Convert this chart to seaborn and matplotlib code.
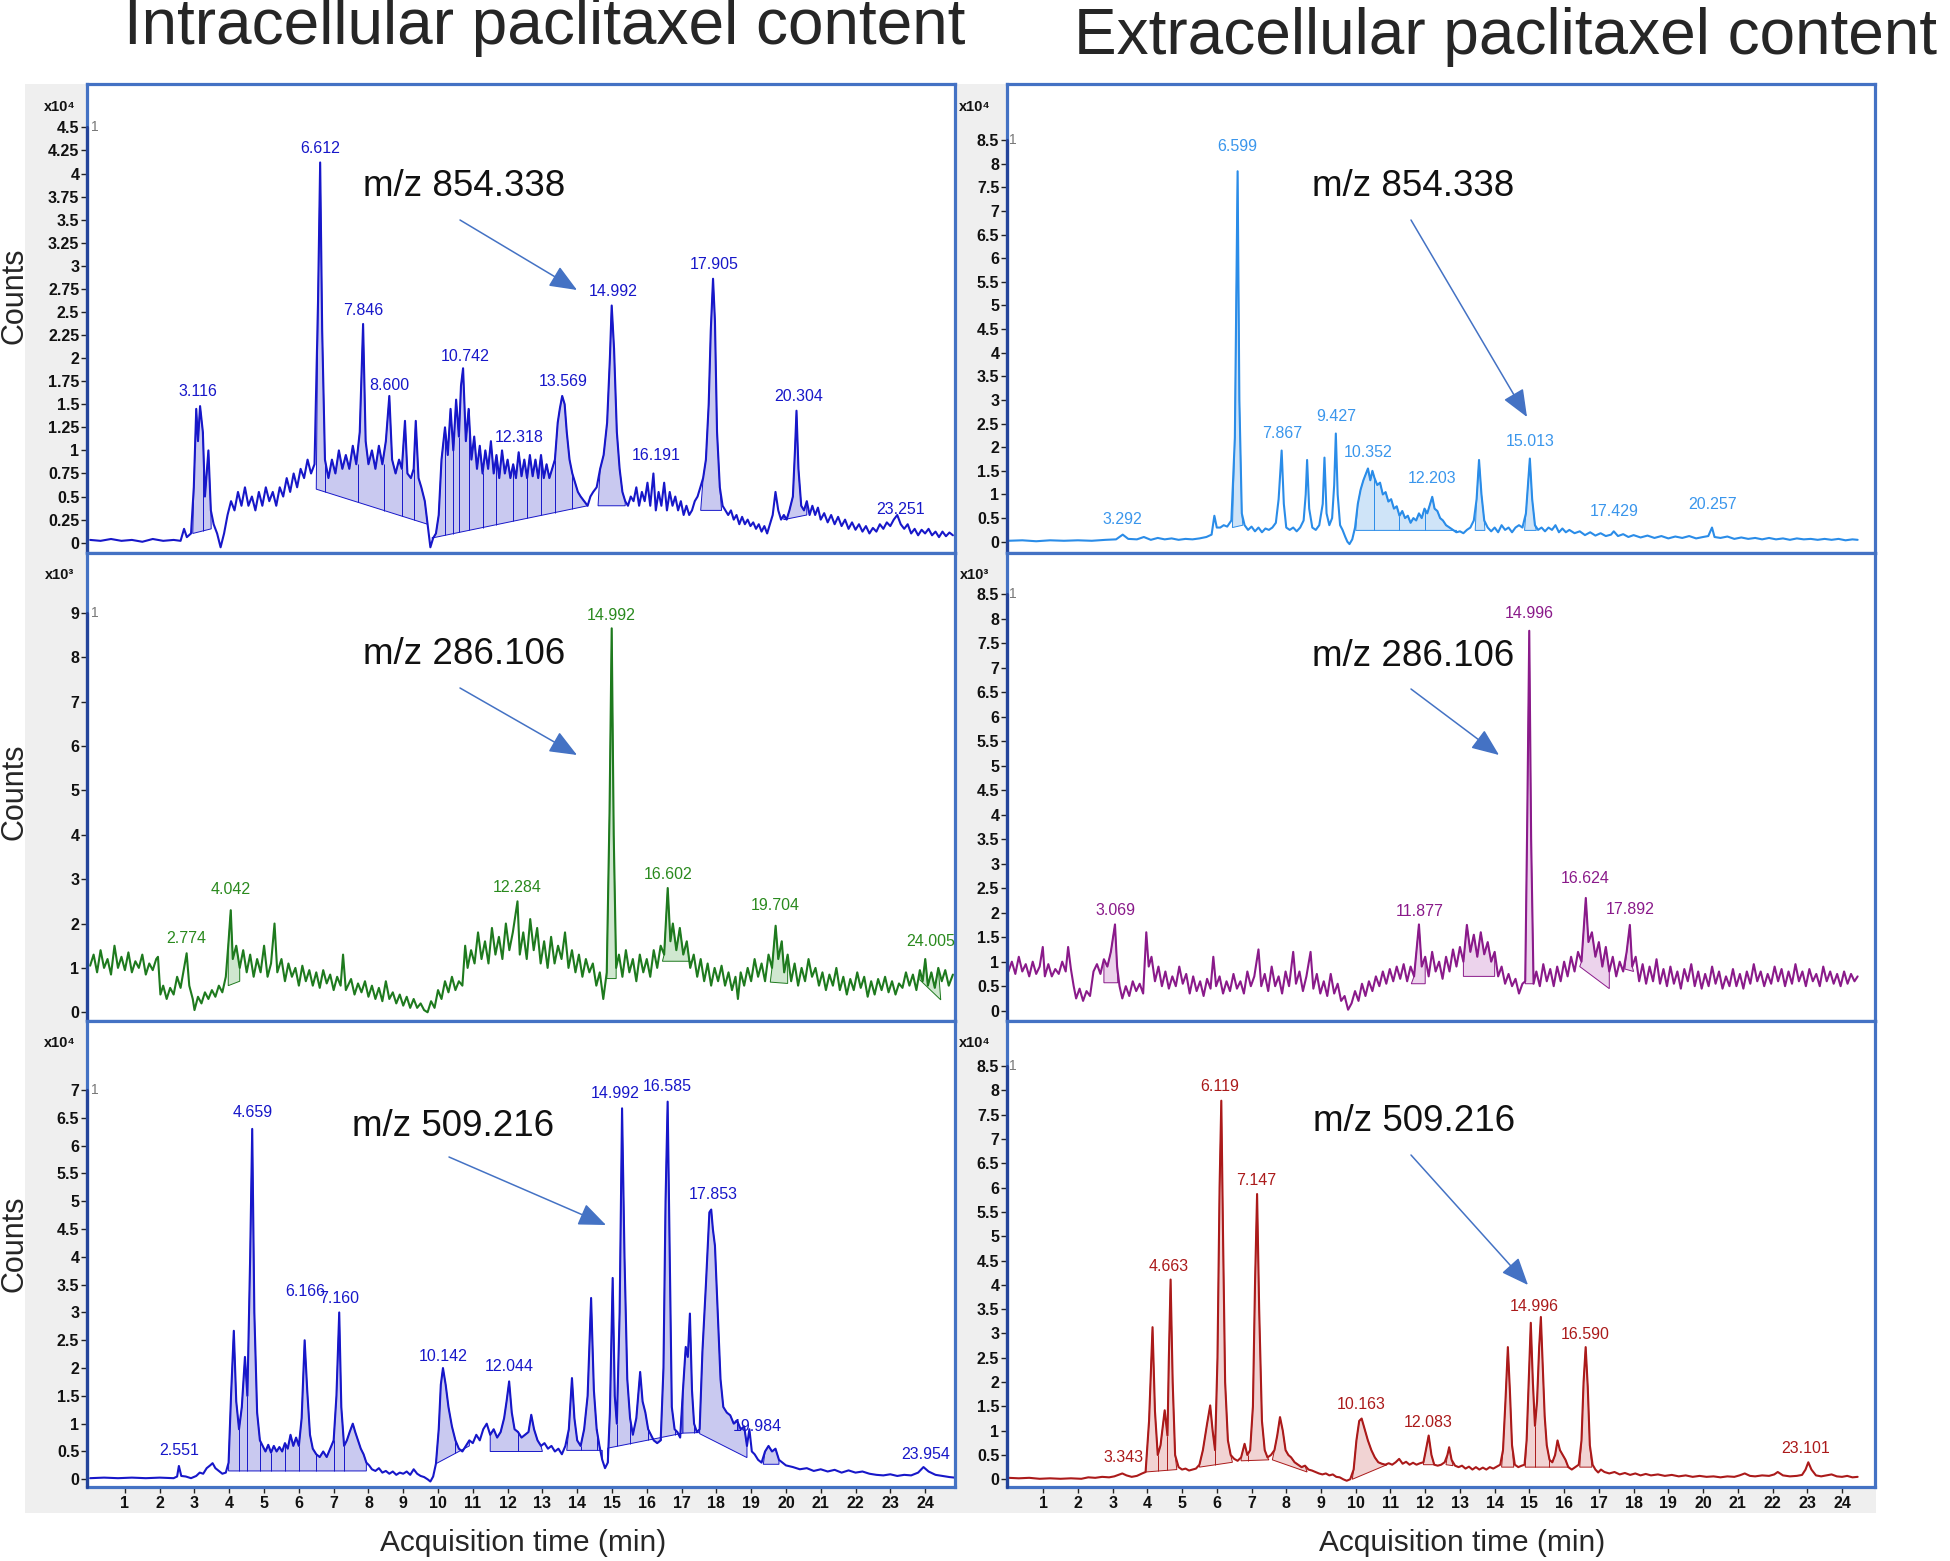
"""Extracted-ion chromatograms of paclitaxel, intra- vs extracellular (3x2 panels)."""
import matplotlib
matplotlib.use("Agg")
import matplotlib.pyplot as plt
from matplotlib import font_manager
from matplotlib.patches import Rectangle, FancyArrowPatch
import numpy as np
import seaborn as sns

W, H = 1950, 1561

# ---------------------------------------------------------------- data
# traces: (acquisition time in min, counts in the panel's x10^n unit)
P1_TRACE = [
    (0.0, 0.03), (0.3, 0.02), (0.6, 0.04), (0.9, 0.02), (1.2, 0.03), (1.5, 0.01), (1.8, 0.04),
    (2.1, 0.02), (2.4, 0.03), (2.6, 0.02), (2.7, 0.15), (2.78, 0.06), (2.9, 0.1), (2.98, 0.6),
    (3.05, 1.45), (3.1, 1.1), (3.16, 1.48), (3.24, 1.2), (3.3, 0.5), (3.4, 1.0), (3.47, 0.35),
    (3.55, 0.2), (3.65, 0.1), (3.75, -0.05), (3.85, 0.1), (3.95, 0.3), (4.05, 0.45), (4.15, 0.35),
    (4.25, 0.55), (4.35, 0.4), (4.45, 0.6), (4.55, 0.4), (4.65, 0.5), (4.75, 0.35), (4.85, 0.55),
    (4.95, 0.4), (5.05, 0.6), (5.15, 0.45), (5.25, 0.55), (5.35, 0.4), (5.45, 0.6), (5.55, 0.5),
    (5.65, 0.7), (5.75, 0.55), (5.85, 0.75), (5.95, 0.6), (6.05, 0.8), (6.15, 0.7), (6.25, 0.9),
    (6.35, 0.75), (6.45, 0.85), (6.55, 2.6), (6.612, 4.12), (6.67, 2.3), (6.75, 0.9), (6.85, 0.7),
    (6.95, 0.9), (7.05, 0.75), (7.15, 1.0), (7.25, 0.8), (7.35, 0.95), (7.45, 0.8), (7.55, 1.05),
    (7.65, 0.85), (7.75, 1.2), (7.846, 2.37), (7.92, 1.1), (8.0, 0.85), (8.1, 1.0), (8.2, 0.8),
    (8.3, 1.05), (8.4, 0.85), (8.5, 1.1), (8.6, 1.59), (8.68, 0.9), (8.78, 0.75), (8.88, 0.9),
    (8.96, 0.8), (9.05, 1.32), (9.12, 0.75), (9.22, 0.7), (9.3, 0.8), (9.36, 1.32), (9.44, 0.7),
    (9.52, 0.6), (9.62, 0.45), (9.7, 0.2), (9.78, -0.05), (9.86, 0.05), (9.94, 0.1), (10.02, 0.3),
    (10.1, 0.9), (10.2, 1.25), (10.28, 0.95), (10.36, 1.45), (10.44, 1.0), (10.52, 1.55),
    (10.6, 1.15), (10.66, 1.7), (10.72, 1.89), (10.8, 1.1), (10.88, 1.45), (10.96, 0.9),
    (11.04, 1.15), (11.12, 0.8), (11.2, 1.05), (11.28, 0.75), (11.36, 1.0), (11.44, 0.8),
    (11.52, 1.1), (11.6, 0.75), (11.68, 0.95), (11.76, 0.7), (11.84, 1.0), (11.92, 0.75),
    (12.0, 0.9), (12.08, 0.7), (12.16, 0.85), (12.24, 0.7), (12.318, 0.98), (12.4, 0.72),
    (12.48, 0.9), (12.56, 0.7), (12.64, 0.95), (12.72, 0.72), (12.8, 0.9), (12.88, 0.7),
    (12.96, 0.95), (13.04, 0.7), (13.12, 0.85), (13.2, 0.7), (13.28, 0.8), (13.36, 0.9),
    (13.44, 1.3), (13.5, 1.45), (13.569, 1.59), (13.64, 1.5), (13.7, 1.2), (13.78, 0.9),
    (13.86, 0.75), (13.94, 0.65), (14.02, 0.55), (14.1, 0.5), (14.2, 0.45), (14.3, 0.4),
    (14.38, 0.5), (14.46, 0.55), (14.56, 0.6), (14.66, 0.8), (14.76, 0.95), (14.86, 1.3),
    (14.94, 2.0), (14.992, 2.57), (15.06, 2.1), (15.14, 1.2), (15.22, 0.8), (15.3, 0.55),
    (15.38, 0.45), (15.46, 0.4), (15.54, 0.5), (15.62, 0.45), (15.7, 0.6), (15.78, 0.4),
    (15.86, 0.55), (15.94, 0.45), (16.02, 0.65), (16.1, 0.4), (16.191, 0.75), (16.26, 0.35),
    (16.34, 0.55), (16.42, 0.4), (16.5, 0.65), (16.58, 0.35), (16.66, 0.55), (16.74, 0.4),
    (16.82, 0.5), (16.9, 0.35), (16.98, 0.45), (17.06, 0.3), (17.14, 0.4), (17.22, 0.3),
    (17.3, 0.35), (17.38, 0.45), (17.46, 0.5), (17.54, 0.6), (17.62, 0.7), (17.7, 0.9),
    (17.78, 1.5), (17.84, 2.3), (17.905, 2.86), (17.96, 2.4), (18.02, 1.2), (18.1, 0.6),
    (18.18, 0.4), (18.26, 0.35), (18.34, 0.3), (18.42, 0.35), (18.5, 0.25), (18.58, 0.3),
    (18.66, 0.2), (18.74, 0.28), (18.82, 0.2), (18.9, 0.25), (18.98, 0.18), (19.06, 0.22),
    (19.14, 0.15), (19.22, 0.2), (19.3, 0.12), (19.38, 0.18), (19.46, 0.1), (19.54, 0.2),
    (19.62, 0.3), (19.7, 0.55), (19.78, 0.35), (19.86, 0.25), (19.94, 0.3), (20.02, 0.25),
    (20.1, 0.35), (20.2, 0.5), (20.26, 1.0), (20.304, 1.43), (20.36, 0.8), (20.44, 0.4),
    (20.52, 0.35), (20.6, 0.45), (20.68, 0.3), (20.76, 0.4), (20.84, 0.3), (20.92, 0.38),
    (21.0, 0.25), (21.1, 0.32), (21.2, 0.22), (21.3, 0.3), (21.4, 0.2), (21.5, 0.28), (21.6, 0.18),
    (21.7, 0.25), (21.8, 0.15), (21.9, 0.22), (22.0, 0.14), (22.1, 0.2), (22.2, 0.12), (22.3, 0.18),
    (22.4, 0.1), (22.5, 0.16), (22.6, 0.12), (22.7, 0.2), (22.8, 0.15), (22.9, 0.22), (23.0, 0.18),
    (23.1, 0.25), (23.2, 0.3), (23.3, 0.2), (23.4, 0.15), (23.5, 0.2), (23.6, 0.1), (23.7, 0.15),
    (23.8, 0.08), (23.9, 0.14), (24.0, 0.1), (24.1, 0.15), (24.2, 0.08), (24.3, 0.12), (24.4, 0.06),
    (24.5, 0.12), (24.6, 0.07), (24.7, 0.11), (24.8, 0.08),
]
P1_PEAKS = [("3.116", 3.1, 1.56), ("6.612", 6.62, 4.19), ("7.846", 7.85, 2.44), ("8.600", 8.6, 1.62),
            ("10.742", 10.78, 1.94), ("12.318", 12.33, 1.06), ("13.569", 13.6, 1.66),
            ("14.992", 15.03, 2.64), ("16.191", 16.28, 0.86), ("17.905", 17.95, 2.93),
            ("20.304", 20.36, 1.5), ("23.251", 23.3, 0.28)]
P1_SHADES = [(2.95, 3.48, 0.1, 0.15), (6.5, 9.7, 0.58, 0.2), (9.82, 14.3, 0.05, 0.4),
             (14.6, 15.38, 0.4, 0.4), (17.55, 18.15, 0.35, 0.35), (19.94, 20.6, 0.25, 0.3)]
P1_DIVIDERS = [3.24, 6.75, 7.7, 8.45, 8.96, 9.3, 10.2, 10.44, 10.6, 10.88, 11.28, 11.68, 12.16,
               12.56, 12.96, 13.36, 13.86]

P2_TRACE = [
    (0.0, 0.02), (0.4, 0.03), (0.8, 0.01), (1.2, 0.03), (1.6, 0.02), (2.0, 0.03), (2.4, 0.02),
    (2.8, 0.04), (3.1, 0.05), (3.292, 0.15), (3.45, 0.06), (3.7, 0.05), (3.9, 0.1), (4.1, 0.04),
    (4.3, 0.08), (4.5, 0.05), (4.7, 0.07), (4.9, 0.04), (5.1, 0.06), (5.3, 0.05), (5.5, 0.07),
    (5.7, 0.1), (5.85, 0.15), (5.93, 0.55), (6.0, 0.3), (6.1, 0.3), (6.2, 0.35), (6.3, 0.32),
    (6.42, 0.45), (6.52, 2.2), (6.599, 7.84), (6.65, 3.0), (6.72, 0.6), (6.8, 0.35), (6.9, 0.25),
    (7.0, 0.32), (7.1, 0.22), (7.2, 0.3), (7.3, 0.2), (7.4, 0.28), (7.5, 0.25), (7.6, 0.3),
    (7.7, 0.4), (7.78, 0.9), (7.867, 1.93), (7.93, 0.8), (8.0, 0.3), (8.1, 0.25), (8.2, 0.3),
    (8.3, 0.22), (8.4, 0.3), (8.5, 0.45), (8.56, 1.0), (8.6, 1.73), (8.66, 0.7), (8.75, 0.3),
    (8.85, 0.25), (8.95, 0.35), (9.05, 0.8), (9.1, 1.78), (9.16, 0.6), (9.24, 0.35), (9.32, 0.5),
    (9.38, 1.2), (9.427, 2.29), (9.48, 1.0), (9.55, 0.35), (9.62, 0.25), (9.7, 0.1), (9.76, 0.0),
    (9.82, -0.05), (9.9, 0.05), (9.98, 0.3), (10.06, 0.8), (10.14, 1.1), (10.22, 1.3), (10.3, 1.45),
    (10.352, 1.55), (10.42, 1.3), (10.48, 1.5), (10.54, 1.35), (10.62, 1.2), (10.7, 1.25),
    (10.78, 1.0), (10.86, 1.05), (10.94, 0.85), (11.02, 0.9), (11.1, 0.7), (11.18, 0.75),
    (11.26, 0.55), (11.34, 0.65), (11.42, 0.5), (11.5, 0.55), (11.58, 0.4), (11.66, 0.5),
    (11.74, 0.45), (11.82, 0.6), (11.9, 0.5), (11.98, 0.7), (12.06, 0.6), (12.14, 0.8),
    (12.203, 0.95), (12.27, 0.7), (12.35, 0.65), (12.43, 0.5), (12.51, 0.45), (12.6, 0.35),
    (12.7, 0.3), (12.8, 0.25), (12.9, 0.2), (13.0, 0.22), (13.1, 0.18), (13.2, 0.25), (13.3, 0.3),
    (13.4, 0.45), (13.48, 0.9), (13.55, 1.73), (13.62, 1.0), (13.7, 0.45), (13.8, 0.3), (13.9, 0.22),
    (14.0, 0.3), (14.1, 0.2), (14.2, 0.35), (14.3, 0.25), (14.4, 0.3), (14.5, 0.2), (14.6, 0.3),
    (14.7, 0.35), (14.8, 0.3), (14.9, 0.6), (15.013, 1.76), (15.08, 0.9), (15.16, 0.35),
    (15.25, 0.25), (15.35, 0.3), (15.45, 0.22), (15.55, 0.3), (15.65, 0.25), (15.75, 0.35),
    (15.85, 0.2), (15.95, 0.28), (16.05, 0.2), (16.15, 0.25), (16.3, 0.18), (16.45, 0.22),
    (16.6, 0.14), (16.75, 0.2), (16.9, 0.13), (17.05, 0.18), (17.2, 0.12), (17.35, 0.15),
    (17.429, 0.22), (17.55, 0.12), (17.7, 0.16), (17.85, 0.1), (18.0, 0.14), (18.2, 0.09),
    (18.4, 0.13), (18.6, 0.08), (18.8, 0.12), (19.0, 0.07), (19.2, 0.11), (19.4, 0.08),
    (19.6, 0.12), (19.8, 0.07), (20.0, 0.1), (20.15, 0.12), (20.257, 0.3), (20.33, 0.1),
    (20.5, 0.08), (20.7, 0.11), (20.9, 0.06), (21.1, 0.09), (21.3, 0.06), (21.5, 0.08),
    (21.7, 0.05), (21.9, 0.08), (22.1, 0.05), (22.3, 0.07), (22.5, 0.04), (22.7, 0.07),
    (22.9, 0.05), (23.1, 0.06), (23.3, 0.04), (23.5, 0.06), (23.7, 0.04), (23.9, 0.06),
    (24.1, 0.03), (24.3, 0.05), (24.45, 0.04),
]
P2_PEAKS = [("3.292", 3.29, 0.32), ("6.599", 6.6, 8.2), ("7.867", 7.87, 2.13), ("9.427", 9.43, 2.5),
            ("10.352", 10.35, 1.73), ("12.203", 12.2, 1.18), ("15.013", 15.01, 1.97),
            ("17.429", 17.43, 0.49), ("20.257", 20.26, 0.62)]
P2_SHADES = [(6.45, 6.75, 0.3, 0.35), (10.0, 12.9, 0.24, 0.24), (13.44, 13.72, 0.24, 0.24),
             (14.86, 15.2, 0.24, 0.24)]
P2_DIVIDERS = [10.54, 11.26, 11.98]

P3_TRACE = [
    (0.0, 1.05), (0.1, 1.3), (0.2, 0.9), (0.3, 1.4), (0.4, 1.0), (0.5, 1.2), (0.6, 0.85), (0.7, 1.5),
    (0.8, 1.0), (0.9, 1.25), (1.0, 0.95), (1.1, 1.35), (1.2, 0.9), (1.3, 1.15), (1.4, 1.0),
    (1.5, 1.3), (1.6, 0.85), (1.7, 1.1), (1.8, 0.95), (1.9, 1.2), (1.95, 1.25), (2.02, 0.4),
    (2.1, 0.6), (2.2, 0.3), (2.3, 0.55), (2.4, 0.4), (2.5, 0.8), (2.6, 0.55), (2.7, 1.0),
    (2.774, 1.33), (2.85, 0.6), (2.95, 0.3), (3.0, 0.05), (3.1, 0.35), (3.2, 0.2), (3.3, 0.45),
    (3.4, 0.3), (3.5, 0.5), (3.6, 0.35), (3.7, 0.6), (3.8, 0.45), (3.9, 0.8), (3.97, 1.5),
    (4.042, 2.3), (4.1, 1.2), (4.2, 1.5), (4.3, 1.0), (4.4, 1.4), (4.5, 0.9), (4.6, 1.3), (4.7, 0.8),
    (4.8, 1.2), (4.9, 0.9), (5.0, 1.5), (5.1, 0.8), (5.2, 1.1), (5.3, 2.0), (5.38, 0.9), (5.5, 1.2),
    (5.6, 0.7), (5.7, 1.1), (5.8, 0.8), (5.9, 1.0), (6.0, 0.6), (6.1, 1.05), (6.2, 0.7), (6.3, 0.95),
    (6.4, 0.6), (6.5, 0.9), (6.6, 0.55), (6.7, 0.95), (6.8, 0.65), (6.9, 0.85), (7.0, 0.5),
    (7.1, 0.8), (7.2, 0.6), (7.27, 1.3), (7.35, 0.5), (7.5, 0.75), (7.6, 0.4), (7.7, 0.65),
    (7.8, 0.45), (7.9, 0.7), (8.0, 0.35), (8.1, 0.6), (8.2, 0.3), (8.3, 0.55), (8.4, 0.25),
    (8.5, 0.7), (8.6, 0.3), (8.7, 0.45), (8.8, 0.2), (8.9, 0.4), (9.0, 0.15), (9.1, 0.35),
    (9.2, 0.1), (9.3, 0.3), (9.4, 0.1), (9.5, 0.2), (9.6, 0.05), (9.7, 0.0), (9.8, 0.25), (9.9, 0.1),
    (10.0, 0.5), (10.1, 0.3), (10.2, 0.7), (10.3, 0.45), (10.4, 0.8), (10.5, 0.5), (10.6, 0.7),
    (10.7, 0.6), (10.78, 1.5), (10.85, 1.0), (10.95, 1.4), (11.05, 1.1), (11.15, 1.8), (11.25, 1.2),
    (11.35, 1.6), (11.45, 1.1), (11.55, 1.9), (11.65, 1.3), (11.75, 1.7), (11.85, 1.2), (11.95, 2.0),
    (12.05, 1.4), (12.15, 1.8), (12.284, 2.5), (12.35, 1.3), (12.45, 1.8), (12.55, 1.2),
    (12.65, 2.1), (12.75, 1.4), (12.85, 1.9), (12.95, 1.1), (13.05, 1.6), (13.15, 1.0),
    (13.25, 1.7), (13.35, 1.1), (13.45, 1.5), (13.55, 1.2), (13.65, 1.8), (13.75, 1.0),
    (13.85, 1.4), (13.95, 0.9), (14.05, 1.3), (14.15, 0.8), (14.25, 1.2), (14.35, 0.9),
    (14.45, 1.1), (14.55, 0.6), (14.65, 0.9), (14.75, 0.3), (14.85, 0.9), (14.93, 4.5),
    (14.992, 8.65), (15.05, 4.0), (15.12, 1.0), (15.2, 1.3), (15.3, 0.8), (15.4, 1.4), (15.5, 0.9),
    (15.6, 1.2), (15.7, 0.7), (15.8, 1.3), (15.9, 0.9), (16.0, 1.2), (16.1, 0.8), (16.2, 1.4),
    (16.3, 1.0), (16.4, 1.5), (16.5, 1.3), (16.602, 2.8), (16.68, 1.6), (16.75, 2.0), (16.85, 1.4),
    (16.95, 1.9), (17.05, 1.3), (17.15, 1.6), (17.25, 1.0), (17.35, 1.3), (17.45, 0.8),
    (17.55, 1.2), (17.65, 0.7), (17.75, 1.1), (17.85, 0.6), (17.95, 1.0), (18.05, 0.7),
    (18.15, 1.05), (18.25, 0.6), (18.35, 0.9), (18.45, 0.5), (18.55, 0.8), (18.62, 0.3), (18.7, 0.9),
    (18.8, 0.6), (18.9, 1.0), (19.0, 0.7), (19.1, 1.2), (19.2, 0.8), (19.3, 1.1), (19.4, 0.7),
    (19.5, 1.3), (19.6, 1.0), (19.704, 1.95), (19.78, 1.2), (19.88, 1.6), (19.95, 0.9),
    (20.05, 1.3), (20.15, 0.7), (20.25, 1.1), (20.35, 0.6), (20.45, 1.0), (20.55, 0.7),
    (20.65, 1.2), (20.75, 0.8), (20.85, 1.0), (20.95, 0.6), (21.05, 0.9), (21.15, 0.5),
    (21.25, 0.85), (21.35, 0.6), (21.45, 1.0), (21.55, 0.5), (21.65, 0.8), (21.75, 0.4),
    (21.85, 0.75), (21.95, 0.5), (22.05, 0.9), (22.15, 0.55), (22.25, 0.8), (22.35, 0.35),
    (22.45, 0.7), (22.55, 0.4), (22.65, 0.75), (22.75, 0.5), (22.85, 0.8), (22.95, 0.45),
    (23.05, 0.7), (23.15, 0.4), (23.25, 0.65), (23.35, 0.55), (23.45, 0.9), (23.55, 0.6),
    (23.65, 0.85), (23.75, 0.5), (23.85, 0.95), (23.93, 0.7), (24.005, 1.2), (24.08, 0.6),
    (24.18, 0.9), (24.28, 0.55), (24.38, 1.0), (24.48, 0.7), (24.58, 0.95), (24.68, 0.6),
    (24.8, 0.85),
]
P3_PEAKS = [("2.774", 2.77, 1.5), ("4.042", 4.04, 2.6), ("12.284", 12.28, 2.65),
            ("14.992", 14.99, 8.76), ("16.602", 16.6, 2.93), ("19.704", 19.7, 2.23),
            ("24.005", 24.15, 1.42)]
P3_SHADES = [(3.97, 4.3, 0.6, 0.7), (14.85, 15.12, 0.76, 0.76), (16.45, 17.25, 1.15, 1.15),
             (19.55, 20.05, 0.68, 0.65), (23.85, 24.45, 0.73, 0.28)]
P3_DIVIDERS = []

P4_TRACE = [
    (0.0, 0.8), (0.1, 1.0), (0.2, 0.75), (0.3, 1.1), (0.4, 0.8), (0.5, 0.95), (0.6, 0.7), (0.7, 1.0),
    (0.8, 0.75), (0.9, 0.9), (0.99, 1.3), (1.05, 0.7), (1.15, 0.95), (1.25, 0.7), (1.35, 0.85),
    (1.45, 0.75), (1.55, 1.0), (1.65, 0.8), (1.72, 1.3), (1.8, 0.85), (1.88, 0.5), (1.95, 0.25),
    (2.05, 0.45), (2.15, 0.2), (2.25, 0.4), (2.35, 0.3), (2.45, 0.8), (2.55, 0.95), (2.65, 0.75),
    (2.75, 1.05), (2.85, 0.9), (2.95, 1.2), (3.069, 1.76), (3.13, 0.9), (3.2, 0.5), (3.28, 0.25),
    (3.38, 0.5), (3.48, 0.3), (3.58, 0.6), (3.68, 0.4), (3.78, 0.55), (3.88, 0.35), (3.97, 1.6),
    (4.04, 0.9), (4.12, 1.1), (4.22, 0.6), (4.32, 0.9), (4.42, 0.5), (4.52, 0.8), (4.62, 0.45),
    (4.72, 0.7), (4.82, 0.5), (4.92, 0.9), (5.02, 0.55), (5.12, 0.75), (5.22, 0.35), (5.32, 0.7),
    (5.42, 0.4), (5.52, 0.6), (5.62, 0.3), (5.72, 0.65), (5.82, 0.45), (5.9, 1.1), (5.98, 0.5),
    (6.08, 0.7), (6.18, 0.35), (6.28, 0.6), (6.38, 0.4), (6.48, 0.75), (6.58, 0.45), (6.68, 0.6),
    (6.78, 0.35), (6.88, 0.8), (6.98, 0.5), (7.08, 0.7), (7.2, 1.25), (7.28, 0.5), (7.38, 0.75),
    (7.48, 0.4), (7.58, 0.9), (7.68, 0.5), (7.78, 0.7), (7.88, 0.35), (7.98, 0.8), (8.08, 0.5),
    (8.2, 1.2), (8.28, 0.55), (8.38, 0.8), (8.48, 0.4), (8.58, 0.7), (8.7, 1.2), (8.78, 0.45),
    (8.88, 0.75), (8.98, 0.35), (9.08, 0.6), (9.18, 0.3), (9.28, 0.75), (9.38, 0.35), (9.48, 0.55),
    (9.58, 0.2), (9.68, 0.3), (9.78, 0.02), (9.88, 0.15), (9.98, 0.4), (10.08, 0.2), (10.18, 0.55),
    (10.28, 0.3), (10.38, 0.6), (10.48, 0.4), (10.58, 0.7), (10.68, 0.5), (10.78, 0.8),
    (10.88, 0.55), (10.98, 0.85), (11.08, 0.6), (11.18, 0.9), (11.28, 0.65), (11.38, 0.95),
    (11.48, 0.6), (11.58, 0.9), (11.68, 0.7), (11.82, 1.76), (11.9, 0.9), (12.0, 1.1), (12.1, 0.7),
    (12.2, 1.2), (12.3, 0.8), (12.4, 1.0), (12.5, 0.65), (12.6, 1.1), (12.7, 0.8), (12.8, 1.25),
    (12.9, 0.9), (13.0, 1.3), (13.1, 1.0), (13.2, 1.75), (13.3, 1.2), (13.4, 1.55), (13.5, 1.1),
    (13.6, 1.6), (13.7, 1.15), (13.8, 1.4), (13.9, 1.0), (14.0, 1.2), (14.1, 0.7), (14.2, 0.9),
    (14.3, 0.55), (14.4, 0.75), (14.5, 0.5), (14.6, 0.65), (14.7, 0.35), (14.8, 0.55), (14.88, 0.6),
    (14.94, 4.0), (14.996, 7.75), (15.05, 3.5), (15.12, 0.55), (15.2, 0.8), (15.3, 0.5),
    (15.4, 0.95), (15.5, 0.6), (15.6, 0.85), (15.7, 0.5), (15.8, 0.9), (15.9, 0.6), (16.0, 1.0),
    (16.1, 0.7), (16.2, 1.1), (16.3, 0.8), (16.4, 1.2), (16.5, 1.0), (16.624, 2.3), (16.7, 1.4),
    (16.8, 1.6), (16.9, 1.1), (17.0, 1.4), (17.1, 0.9), (17.2, 1.3), (17.3, 0.8), (17.4, 1.1),
    (17.5, 0.7), (17.6, 1.0), (17.7, 0.8), (17.8, 1.2), (17.892, 1.75), (17.96, 0.9), (18.06, 1.1),
    (18.16, 0.6), (18.26, 0.95), (18.36, 0.55), (18.46, 0.9), (18.56, 0.6), (18.66, 1.05),
    (18.76, 0.55), (18.86, 0.85), (18.96, 0.5), (19.06, 0.9), (19.16, 0.55), (19.26, 0.8),
    (19.36, 0.45), (19.46, 0.85), (19.56, 0.6), (19.66, 0.95), (19.76, 0.5), (19.86, 0.8),
    (19.96, 0.45), (20.06, 0.75), (20.16, 0.5), (20.26, 0.9), (20.36, 0.55), (20.46, 0.8),
    (20.56, 0.45), (20.66, 0.7), (20.76, 0.5), (20.86, 0.85), (20.96, 0.5), (21.06, 0.75),
    (21.16, 0.45), (21.26, 0.8), (21.36, 0.55), (21.46, 0.95), (21.56, 0.6), (21.66, 0.8),
    (21.76, 0.5), (21.86, 0.75), (21.96, 0.55), (22.06, 0.9), (22.16, 0.6), (22.26, 0.85),
    (22.36, 0.5), (22.46, 0.8), (22.56, 0.55), (22.66, 0.95), (22.76, 0.6), (22.86, 0.8),
    (22.96, 0.5), (23.06, 0.85), (23.16, 0.6), (23.26, 0.75), (23.36, 0.5), (23.46, 0.9),
    (23.56, 0.6), (23.66, 0.8), (23.76, 0.55), (23.86, 0.75), (23.96, 0.5), (24.06, 0.8),
    (24.16, 0.55), (24.26, 0.75), (24.36, 0.6), (24.45, 0.7),
]
P4_PEAKS = [("3.069", 3.07, 1.89), ("11.877", 11.85, 1.87), ("14.996", 15.0, 7.94),
            ("16.624", 16.62, 2.55), ("17.892", 17.9, 1.92)]
P4_SHADES = [(2.75, 3.15, 0.57, 0.57), (11.6, 12.0, 0.55, 0.55), (13.1, 14.0, 0.7, 0.7),
             (14.88, 15.12, 0.55, 0.55), (16.45, 17.3, 0.9, 0.45), (17.75, 18.0, 0.85, 0.8)]
P4_DIVIDERS = []

P5_TRACE = [
    (0.0, 0.02), (0.4, 0.03), (0.8, 0.02), (1.2, 0.03), (1.6, 0.02), (2.0, 0.03), (2.4, 0.02),
    (2.5, 0.05), (2.551, 0.24), (2.62, 0.06), (2.75, 0.05), (2.9, 0.02), (3.05, 0.06), (3.15, 0.12),
    (3.25, 0.1), (3.35, 0.2), (3.45, 0.25), (3.52, 0.29), (3.6, 0.2), (3.7, 0.15), (3.8, 0.1),
    (3.9, 0.12), (3.98, 0.3), (4.05, 1.5), (4.13, 2.67), (4.2, 1.4), (4.28, 0.9), (4.36, 1.3),
    (4.45, 2.2), (4.52, 1.5), (4.6, 4.0), (4.659, 6.3), (4.72, 3.0), (4.8, 1.2), (4.88, 0.7),
    (4.96, 0.6), (5.04, 0.5), (5.12, 0.62), (5.2, 0.48), (5.28, 0.6), (5.36, 0.5), (5.44, 0.58),
    (5.52, 0.5), (5.6, 0.65), (5.68, 0.55), (5.76, 0.8), (5.84, 0.6), (5.92, 0.75), (6.0, 0.6),
    (6.08, 1.1), (6.166, 2.5), (6.24, 1.6), (6.32, 0.8), (6.4, 0.55), (6.5, 0.45), (6.6, 0.4),
    (6.7, 0.5), (6.8, 0.4), (6.9, 0.55), (7.0, 0.7), (7.08, 1.5), (7.16, 3.0), (7.22, 1.3),
    (7.3, 0.6), (7.38, 0.7), (7.46, 0.85), (7.55, 1.0), (7.62, 0.85), (7.7, 0.7), (7.78, 0.55),
    (7.86, 0.45), (7.94, 0.3), (8.02, 0.25), (8.1, 0.18), (8.2, 0.15), (8.3, 0.2), (8.4, 0.12),
    (8.5, 0.15), (8.6, 0.1), (8.7, 0.14), (8.8, 0.08), (8.9, 0.12), (9.0, 0.1), (9.1, 0.14),
    (9.2, 0.08), (9.3, 0.18), (9.4, 0.1), (9.5, 0.06), (9.6, 0.04), (9.7, 0.0), (9.78, -0.04),
    (9.86, 0.05), (9.94, 0.28), (10.02, 0.9), (10.08, 1.7), (10.142, 2.0), (10.22, 1.7), (10.3, 1.3),
    (10.4, 0.95), (10.5, 0.7), (10.6, 0.55), (10.7, 0.5), (10.8, 0.6), (10.9, 0.7), (11.0, 0.65),
    (11.1, 0.8), (11.2, 0.7), (11.3, 0.9), (11.4, 1.0), (11.5, 0.8), (11.6, 0.9), (11.7, 0.75),
    (11.8, 0.85), (11.9, 1.1), (11.97, 1.4), (12.044, 1.76), (12.12, 1.2), (12.2, 0.9), (12.3, 0.85),
    (12.4, 0.75), (12.5, 0.8), (12.6, 0.85), (12.68, 1.16), (12.76, 0.9), (12.86, 0.7), (12.96, 0.6),
    (13.06, 0.65), (13.16, 0.55), (13.26, 0.6), (13.36, 0.5), (13.46, 0.55), (13.56, 0.45),
    (13.66, 0.6), (13.76, 0.9), (13.85, 1.82), (13.92, 1.1), (14.0, 0.7), (14.1, 0.6), (14.2, 0.9),
    (14.3, 1.5), (14.4, 3.26), (14.48, 1.6), (14.56, 0.9), (14.64, 0.6), (14.72, 0.35), (14.8, 0.2),
    (14.88, 0.3), (14.94, 1.2), (15.02, 3.62), (15.08, 1.5), (15.14, 1.0), (15.22, 3.0),
    (15.29, 6.67), (15.36, 4.0), (15.44, 1.8), (15.52, 1.1), (15.6, 0.8), (15.7, 1.1), (15.81, 1.93),
    (15.88, 1.4), (15.96, 1.2), (16.04, 0.9), (16.12, 0.8), (16.2, 0.7), (16.3, 0.65), (16.4, 0.7),
    (16.48, 2.0), (16.54, 5.0), (16.6, 6.79), (16.66, 4.0), (16.72, 1.3), (16.8, 0.9), (16.88, 0.85),
    (16.96, 0.75), (17.04, 1.6), (17.12, 2.38), (17.18, 2.2), (17.24, 2.98), (17.3, 1.6),
    (17.36, 1.0), (17.44, 0.85), (17.52, 0.9), (17.6, 2.3), (17.7, 3.5), (17.8, 4.8), (17.853, 4.85),
    (17.9, 4.5), (17.96, 4.2), (18.04, 3.0), (18.12, 1.8), (18.2, 1.3), (18.3, 1.2), (18.4, 1.15),
    (18.5, 1.0), (18.6, 1.05), (18.7, 0.9), (18.8, 0.95), (18.88, 0.6), (18.95, 0.9), (19.02, 0.5),
    (19.1, 0.45), (19.2, 0.35), (19.3, 0.3), (19.4, 0.5), (19.5, 0.6), (19.6, 0.5), (19.7, 0.55),
    (19.8, 0.35), (19.9, 0.3), (20.0, 0.25), (20.2, 0.22), (20.4, 0.18), (20.6, 0.2), (20.8, 0.15),
    (21.0, 0.18), (21.2, 0.14), (21.4, 0.17), (21.6, 0.12), (21.8, 0.16), (22.0, 0.12), (22.2, 0.14),
    (22.4, 0.1), (22.6, 0.08), (22.8, 0.07), (23.0, 0.09), (23.2, 0.06), (23.4, 0.08), (23.6, 0.07),
    (23.8, 0.12), (23.954, 0.22), (24.1, 0.14), (24.3, 0.08), (24.5, 0.06), (24.7, 0.04),
    (24.85, 0.03),
]
P5_PEAKS = [("2.551", 2.55, 0.38), ("4.659", 4.66, 6.46), ("6.166", 6.17, 3.24), ("7.160", 7.16, 3.11),
            ("10.142", 10.14, 2.08), ("12.044", 12.04, 1.9), ("14.992", 15.08, 6.81),
            ("16.585", 16.6, 6.93), ("17.853", 17.9, 4.98), ("19.984", 19.17, 0.82),
            ("23.954", 24.01, 0.31)]
P5_SHADES = [(3.98, 7.94, 0.15, 0.15), (9.94, 10.9, 0.28, 0.6), (11.5, 13.0, 0.5, 0.5),
             (13.7, 14.72, 0.52, 0.52), (14.88, 17.04, 0.56, 0.83), (17.04, 17.52, 0.83, 0.84),
             (17.52, 18.88, 0.82, 0.39), (19.35, 19.8, 0.27, 0.27)]
P5_DIVIDERS = [4.28, 4.52, 4.88, 5.2, 5.6, 6.0, 6.5, 7.0, 7.3, 10.5, 12.3, 14.1, 14.56, 15.14,
               15.52, 16.04, 16.4, 16.8, 17.36]

P6_TRACE = [
    (0.0, 0.03), (0.3, 0.02), (0.6, 0.03), (0.9, 0.01), (1.2, 0.02), (1.5, 0.01), (1.8, 0.02),
    (2.1, 0.01), (2.3, 0.04), (2.5, 0.03), (2.7, 0.05), (2.9, 0.04), (3.05, 0.06), (3.2, 0.1),
    (3.28, 0.12), (3.4, 0.08), (3.55, 0.05), (3.7, 0.07), (3.85, 0.12), (3.95, 0.15), (4.05, 1.2),
    (4.15, 3.13), (4.22, 1.4), (4.3, 0.5), (4.38, 0.7), (4.5, 1.42), (4.58, 0.9), (4.62, 2.5),
    (4.67, 4.11), (4.73, 2.0), (4.8, 0.5), (4.9, 0.25), (5.0, 0.2), (5.1, 0.22), (5.2, 0.18),
    (5.3, 0.2), (5.4, 0.22), (5.5, 0.3), (5.6, 0.6), (5.72, 1.14), (5.81, 1.52), (5.88, 1.0),
    (5.95, 0.6), (6.02, 2.5), (6.08, 6.0), (6.13, 7.79), (6.18, 5.0), (6.24, 2.0), (6.32, 0.8),
    (6.4, 0.5), (6.5, 0.42), (6.6, 0.38), (6.7, 0.45), (6.8, 0.73), (6.88, 0.5), (6.96, 0.6),
    (7.04, 1.5), (7.1, 4.0), (7.16, 5.87), (7.22, 3.5), (7.3, 1.2), (7.38, 0.6), (7.46, 0.45),
    (7.56, 0.5), (7.66, 0.6), (7.74, 0.9), (7.82, 1.28), (7.9, 1.0), (7.98, 0.6), (8.06, 0.5),
    (8.14, 0.45), (8.24, 0.35), (8.34, 0.3), (8.44, 0.25), (8.54, 0.28), (8.64, 0.2), (8.74, 0.18),
    (8.84, 0.15), (8.94, 0.12), (9.04, 0.1), (9.14, 0.12), (9.24, 0.08), (9.34, 0.1), (9.44, 0.05),
    (9.54, 0.04), (9.64, 0.0), (9.74, -0.03), (9.84, 0.0), (9.94, 0.2), (10.02, 0.8), (10.1, 1.2),
    (10.17, 1.25), (10.25, 1.05), (10.35, 0.8), (10.45, 0.6), (10.55, 0.45), (10.65, 0.35),
    (10.75, 0.32), (10.85, 0.3), (10.95, 0.33), (11.05, 0.3), (11.15, 0.35), (11.25, 0.42),
    (11.35, 0.32), (11.45, 0.36), (11.55, 0.3), (11.65, 0.34), (11.75, 0.3), (11.85, 0.33),
    (11.95, 0.35), (12.02, 0.6), (12.1, 0.9), (12.18, 0.5), (12.26, 0.3), (12.36, 0.28),
    (12.46, 0.3), (12.56, 0.35), (12.64, 0.5), (12.69, 0.66), (12.76, 0.4), (12.86, 0.28),
    (12.96, 0.25), (13.06, 0.28), (13.16, 0.22), (13.26, 0.26), (13.36, 0.2), (13.46, 0.25),
    (13.56, 0.2), (13.66, 0.24), (13.76, 0.2), (13.86, 0.25), (13.96, 0.22), (14.06, 0.26),
    (14.16, 0.3), (14.24, 0.6), (14.31, 1.6), (14.38, 2.72), (14.44, 1.8), (14.5, 0.7), (14.58, 0.3),
    (14.68, 0.25), (14.78, 0.28), (14.86, 0.3), (14.92, 0.8), (14.98, 2.0), (15.04, 3.22),
    (15.1, 2.0), (15.16, 1.1), (15.22, 1.6), (15.28, 2.7), (15.33, 3.34), (15.38, 2.4), (15.44, 1.3),
    (15.5, 0.7), (15.58, 0.4), (15.66, 0.35), (15.74, 0.5), (15.81, 0.8), (15.88, 0.6), (15.96, 0.5),
    (16.04, 0.4), (16.12, 0.25), (16.22, 0.2), (16.32, 0.25), (16.42, 0.3), (16.5, 0.8), (16.56, 2.0),
    (16.62, 2.72), (16.68, 1.9), (16.74, 0.7), (16.82, 0.3), (16.9, 0.2), (16.98, 0.14), (17.06, 0.2),
    (17.16, 0.15), (17.3, 0.12), (17.45, 0.15), (17.6, 0.1), (17.75, 0.13), (17.9, 0.09),
    (18.05, 0.12), (18.2, 0.08), (18.35, 0.11), (18.5, 0.08), (18.7, 0.1), (18.9, 0.07), (19.1, 0.09),
    (19.3, 0.06), (19.5, 0.08), (19.7, 0.05), (19.9, 0.07), (20.1, 0.05), (20.3, 0.06), (20.5, 0.04),
    (20.7, 0.06), (20.9, 0.05), (21.05, 0.08), (21.2, 0.12), (21.35, 0.07), (21.5, 0.06),
    (21.7, 0.08), (21.9, 0.07), (22.05, 0.1), (22.15, 0.15), (22.3, 0.08), (22.5, 0.06), (22.7, 0.07),
    (22.85, 0.09), (22.95, 0.2), (23.03, 0.35), (23.12, 0.2), (23.25, 0.08), (23.4, 0.06),
    (23.55, 0.08), (23.7, 0.1), (23.85, 0.06), (24.0, 0.05), (24.15, 0.07), (24.3, 0.04),
    (24.45, 0.05),
]
P6_PEAKS = [("3.343", 3.32, 0.3), ("4.663", 4.61, 4.23), ("6.119", 6.08, 7.93), ("7.147", 7.14, 6.0),
            ("10.163", 10.17, 1.39), ("12.083", 12.1, 1.02), ("14.996", 15.13, 3.41),
            ("16.590", 16.62, 2.83), ("23.101", 22.95, 0.47)]
P6_SHADES = [(3.95, 4.85, 0.15, 0.2), (5.5, 6.45, 0.25, 0.35), (6.7, 7.5, 0.38, 0.4),
             (7.6, 8.6, 0.4, 0.15), (9.9, 10.9, 0.0, 0.3), (11.95, 12.26, 0.3, 0.3),
             (12.6, 12.8, 0.3, 0.28), (14.2, 14.55, 0.25, 0.25), (14.88, 16.15, 0.25, 0.25),
             (16.45, 16.8, 0.25, 0.25)]
P6_DIVIDERS = [4.3, 4.58, 5.95, 6.9, 15.16, 15.55]

MZ = ["m/z 854.338", "m/z 854.338", "m/z 286.106", "m/z 286.106", "m/z 509.216", "m/z 509.216"]
EXPONENTS = [4, 4, 3, 3, 4, 4]
TIME_TICKS = list(range(1, 25))

# ---------------------------------------------------------------- layout (pixels of the 1950x1561 canvas)
COL_X = [(87, 955), (1007, 1875)]
ROW_Y = [(84.3, 553.3), (553.3, 1021), (1021, 1487.3)]
XLIMS = [(-0.09, 24.86), (-0.04, 24.95)]

FRAME = "#4472c4"
AXIS_LINE = "#24449a"
STRIP = "#efefef"

# the instrument software uses a condensed bold face for its axis numbers
_installed = {f.name for f in font_manager.fontManager.ttflist}
if "Liberation Sans Narrow" in _installed:
    TICK_FONT = dict(family=["Liberation Sans Narrow", "Liberation Sans"], fontweight="bold", fontsize=13)
    PEAK_FONT = dict(family=["Liberation Sans Narrow", "Liberation Sans"], fontsize=13)
else:
    TICK_FONT = dict(family=["Liberation Sans", "DejaVu Sans"], fontweight="bold", fontsize=11.5)
    PEAK_FONT = dict(family=["Liberation Sans", "DejaVu Sans"], fontsize=11.5)


def fx(x):
    return x / W


def fy(y):
    return 1 - y / H


def nearest(t, y, when):
    idx = int(np.argmin(np.abs(np.asarray(t) - when)))
    return y[idx]


def draw_panel(ax, trace, peaks, shades, dividers, color, fill, lab_color, ylim, yticks):
    t = [p[0] for p in trace]
    y = [p[1] for p in trace]
    for t0, t1, b0, b1 in shades:
        seg = [(a, b) for a, b in trace if t0 <= a <= t1]
        xs = [a for a, _ in seg] + [t1, t0]
        ys = [b for _, b in seg] + [b1, b0]
        ax.fill(xs, ys, facecolor=fill, edgecolor=color, linewidth=0.7, zorder=1)
        for d in dividers:
            if t0 < d < t1:
                base = b0 + (b1 - b0) * (d - t0) / (t1 - t0)
                ax.vlines(d, base, nearest(t, y, d), color=color, linewidth=0.7, zorder=1)
    sns.lineplot(x=t, y=y, ax=ax, color=color, linewidth=1.5, estimator=None, sort=False, zorder=2)
    for text, tx, ty in peaks:
        ax.text(tx, ty, text, color=lab_color, ha="center", va="bottom",
                zorder=3, clip_on=True, **PEAK_FONT)
    ax.set_ylim(*ylim)
    ax.set_yticks(yticks)
    ax.set_yticklabels([f"{v:g}" for v in yticks], **TICK_FONT)
    ax.set_xlabel("")
    ax.set_ylabel("")


sns.set_theme(style="white")
plt.rcParams["font.family"] = ["Liberation Sans", "DejaVu Sans"]

fig = plt.figure(figsize=(W / 100, H / 100), dpi=100)
fig.patch.set_facecolor("white")

# grey tick-label strips behind the panels
fig.add_artist(Rectangle((fx(25), fy(1513)), fx(957 - 25), (1513 - 84) / H,
                         transform=fig.transFigure, facecolor=STRIP, edgecolor="none", zorder=-5))
fig.add_artist(Rectangle((fx(957), fy(1513)), fx(1876 - 957), (1513 - 84) / H,
                         transform=fig.transFigure, facecolor=STRIP, edgecolor="none", zorder=-5))

panels = [
    (P1_TRACE, P1_PEAKS, P1_SHADES, P1_DIVIDERS, "#1717c9", "#c9c9f0", "#1717c9", (-0.115, 4.967), np.arange(0, 4.51, 0.25)),
    (P2_TRACE, P2_PEAKS, P2_SHADES, P2_DIVIDERS, "#2a8ce8", "#cfe4f8", "#3a96ec", (-0.245, 9.68), np.arange(0, 8.51, 0.5)),
    (P3_TRACE, P3_PEAKS, P3_SHADES, P3_DIVIDERS, "#1e7a1e", "#cfe7cf", "#2a8a1e", (-0.196, 10.34), np.arange(0, 9.1, 1.0)),
    (P4_TRACE, P4_PEAKS, P4_SHADES, P4_DIVIDERS, "#8a1a8a", "#ecd3ec", "#8a1a8a", (-0.21, 9.33), np.arange(0, 8.51, 0.5)),
    (P5_TRACE, P5_PEAKS, P5_SHADES, P5_DIVIDERS, "#1717c9", "#c9c9f0", "#1717c9", (-0.144, 8.24), np.arange(0, 7.01, 0.5)),
    (P6_TRACE, P6_PEAKS, P6_SHADES, P6_DIVIDERS, "#ab1a1a", "#f1d3d3", "#ab1a1a", (-0.165, 9.43), np.arange(0, 8.51, 0.5)),
]

MZ_POS = [(363, 186.7), (1312, 186.7), (363, 655), (1312, 656.7), (352, 1126.7), (1313, 1121.7)]
ARROWS = [((460, 220), (577, 290)), ((1411, 220), (1527, 417)), ((460, 688), (577, 755)),
          ((1411, 689), (1499, 755)), ((449, 1157), (606, 1225)), ((1411, 1155), (1528, 1285))]
EXP_Y = [106.7, 575, 1043]
EXP_X = [59.5, 975]

for i, (trace, peaks, shades, divs, color, fill, lab_color, ylim, yticks) in enumerate(panels):
    row, col = divmod(i, 2)
    x0, x1 = COL_X[col]
    y0, y1 = ROW_Y[row]
    ax = fig.add_axes([fx(x0), fy(y1), (x1 - x0) / W, (y1 - y0) / H])
    ax.set_facecolor("white")
    draw_panel(ax, trace, peaks, shades, divs, color, fill, lab_color, ylim, yticks)
    ax.set_xlim(*XLIMS[col])
    for s in ax.spines.values():
        s.set_color(FRAME)
        s.set_linewidth(2.3)
    # darker count axis running from the top tick down to the frame
    frac = (yticks[-1] - ylim[0]) / (ylim[1] - ylim[0])
    ax.axvline(XLIMS[col][0], ymin=0, ymax=frac, color=AXIS_LINE, linewidth=2.3, zorder=4,
               clip_on=False)
    ax.tick_params(axis="y", which="major", direction="out", length=4, width=1, color="#222222",
                   pad=1.5, labelcolor="#111111", left=True)
    if row == 2:
        ax.set_xticks(TIME_TICKS)
        ax.set_xticklabels([str(v) for v in TIME_TICKS], **TICK_FONT)
        ax.tick_params(axis="x", direction="out", length=4, width=1, color="#222222",
                       pad=2, labelcolor="#111111", bottom=True)
    else:
        ax.set_xticks([])
    # the small trace index and the exponent of the count axis
    ax.text(0.012, yticks[-1], "1", color="#777777", fontsize=10, ha="left", va="center")
    fig.text(fx(EXP_X[col]), fy(EXP_Y[row]), f"x10{'⁴' if EXPONENTS[i] == 4 else '³'}",
             fontsize=10.5, fontweight="bold", ha="center", va="center", color="#111111",
             family=["Liberation Sans", "DejaVu Sans"])
    # m/z annotation with arrow
    mx, my = MZ_POS[i]
    fig.text(fx(mx), fy(my), MZ[i], fontsize=26.5, ha="left", va="center", color="#111111")
    (ax0, ay0), (ax1, ay1) = ARROWS[i]
    fig.add_artist(FancyArrowPatch((fx(ax0), fy(ay0)), (fx(ax1), fy(ay1)), transform=fig.transFigure,
                                   arrowstyle="-|>,head_length=0.85,head_width=0.35",
                                   mutation_scale=20, color=FRAME, linewidth=1.1,
                                   shrinkA=0, shrinkB=0, zorder=5))

fig.text(fx(545), fy(27), "Intracellular paclitaxel content", fontsize=46, ha="center", va="center")
fig.text(fx(1506), fy(37), "Extracellular paclitaxel content", fontsize=46, ha="center", va="center")
for yc in [296, 792, 1244]:
    fig.text(fx(15), fy(yc), "Counts", fontsize=22, rotation=90, ha="center", va="center")
fig.text(fx(523.5), fy(1543), "Acquisition time (min)", fontsize=21.5, ha="center", va="center")
fig.text(fx(1462), fy(1543), "Acquisition time (min)", fontsize=21.5, ha="center", va="center")

fig.savefig("out.png", dpi=100, facecolor="white")
